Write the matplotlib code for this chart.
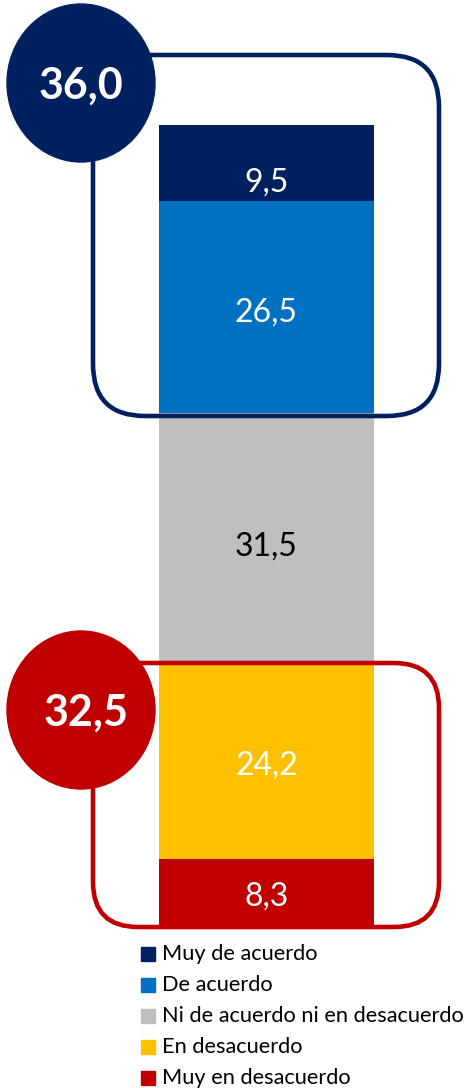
import matplotlib
matplotlib.use("Agg")
import matplotlib.pyplot as plt
from matplotlib.patches import FancyBboxPatch, Ellipse, Rectangle

plt.rcParams['font.family'] = ['Lato', 'DejaVu Sans']

# Data
categories = ['Muy de acuerdo', 'De acuerdo', 'Ni de acuerdo ni en desacuerdo',
              'En desacuerdo', 'Muy en desacuerdo']
values = [9.5, 26.5, 31.5, 24.2, 8.3]
colors = ['#002060', '#0070C0', '#BFBFBF', '#FFC000', '#C00000']
label_colors = ['white', 'white', 'black', 'white', 'white']
agree_total = 36.0
disagree_total = 32.5

W, H = 474, 1088
fig = plt.figure(figsize=(W / 100, H / 100), dpi=100)

# Main axes: bar spans pixel 159..374 horizontally, 125..925 vertically
ax = fig.add_axes([0, 0, 1, 1])
px_per_unit = 8.0
bar_bottom_px = 925
ax.set_ylim((bar_bottom_px - H) / px_per_unit, bar_bottom_px / px_per_unit)
bar_w_px = 215
ax.set_xlim(-0.5 - 159 / bar_w_px, 0.5 + (W - 374) / bar_w_px)
ax.axis('off')

# label nudges (in value units, negative = down), the top label sits low in the original
label_shift = [-2.4, -0.7, -0.9, -0.5, -0.6]

# Stack from the bottom (Muy en desacuerdo) to the top (Muy de acuerdo)
bottom = 0.0
for cat, val, col, lc, dy in reversed(list(zip(categories, values, colors, label_colors, label_shift))):
    ax.bar(0, val, width=1.0, bottom=bottom, color=col, zorder=2)
    ax.text(0, bottom + val / 2 + dy, f'{val:.1f}'.replace('.', ','), ha='center', va='center',
            color=lc, fontsize=23, zorder=5)
    bottom += val


def ypix(v):
    # value -> pixel row from top
    return H - ax.transData.transform((0, v))[1]


# Overlay in pixel coordinates for the boxes and circles
ov = fig.add_axes([0, 0, 1, 1])
ov.set_xlim(0, W)
ov.set_ylim(H, 0)
ov.axis('off')
ov.patch.set_alpha(0)

total = sum(values)
agree_bottom = ypix(total - agree_total)
disagree_top = ypix(disagree_total)
bar_base = ypix(0)

# Upper box (agreement)
top_box = FancyBboxPatch((93, 55), 346, agree_bottom + 3 - 55,
                         boxstyle='round,pad=0,rounding_size=52',
                         fill=False, edgecolor='#002060', linewidth=3.3, zorder=3)
ov.add_patch(top_box)
# Lower box (disagreement)
bot_box = FancyBboxPatch((93, disagree_top - 2), 346, bar_base + 2 - (disagree_top - 2),
                         boxstyle='round,pad=0,rounding_size=45',
                         fill=False, edgecolor='#C00000', linewidth=3.3, zorder=3)
ov.add_patch(bot_box)

# Circles with totals
ov.add_patch(Ellipse((81, 83), 148, 158, color='#002060', zorder=4))
ov.text(81, 86, f'{agree_total:.1f}'.replace('.', ','), ha='center', va='center',
        color='white', fontsize=31, fontweight='bold', zorder=6)
ov.add_patch(Ellipse((81, 710), 148, 158, color='#C00000', zorder=4))
ov.text(86, 713, f'{disagree_total:.1f}'.replace('.', ','), ha='center', va='center',
        color='white', fontsize=31, fontweight='bold', zorder=6)

# Legend
for i, (cat, col) in enumerate(zip(categories, colors)):
    y = 954 + i * 31
    ov.add_patch(Rectangle((141, y - 7), 14, 14, color=col))
    ov.text(162, y, cat, ha='left', va='center', fontsize=15.7, color='black')

fig.savefig('out.png', dpi=100)
